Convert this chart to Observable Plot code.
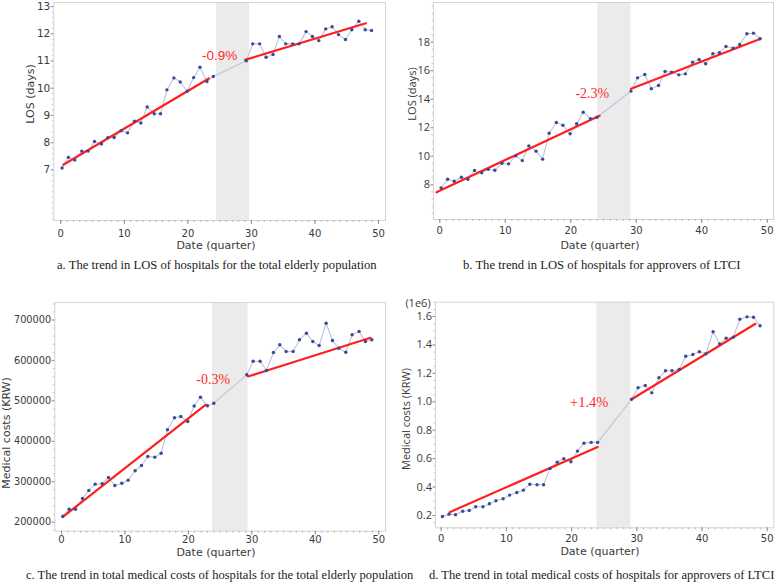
<!DOCTYPE html>
<html><head><meta charset="utf-8">
<script src="https://cdn.jsdelivr.net/npm/d3@7"></script>
<script src="https://cdn.jsdelivr.net/npm/@observablehq/plot@0.6"></script>
<style>
body{margin:0;background:#fff;}
#root{position:relative;width:778px;height:582px;overflow:hidden;background:#fff;}
.cap{position:absolute;font-family:"Liberation Serif","Times New Roman",serif;font-size:13px;line-height:1;color:#1a1a1a;white-space:nowrap;transform:translateY(-50%);}
.ttl{position:absolute;white-space:nowrap;color:#3a3a3a;line-height:1;transform:translate(-50%,-50%);}
.rot{transform:translate(-50%,-50%) rotate(-90deg);}
</style></head>
<body><div id="root"></div>
<script>
// ---------- data ----------
const quarterPre  = [0.2,1.2,2.2,3.3,4.3,5.3,6.4,7.4,8.4,9.5,10.5,11.6,12.6,13.6,14.7,15.7,16.7,17.8,18.8,19.9,20.9,21.9,23.0,24.0];
const quarterPost = [29.2,30.2,31.3,32.3,33.4,34.4,35.4,36.5,37.5,38.6,39.6,40.6,41.7,42.7,43.7,44.8,45.8,46.9,47.9,48.9];

const losTotalPre  = [7.07,7.46,7.36,7.69,7.69,8.04,7.95,8.18,8.19,8.44,8.36,8.79,8.72,9.31,9.06,9.06,9.94,10.38,10.23,9.89,10.39,10.77,10.25,10.43];
const losTotalPost = [11.01,11.63,11.63,11.14,11.24,11.90,11.63,11.63,11.63,12.08,11.90,11.75,12.18,12.26,11.97,11.79,12.15,12.46,12.15,12.12];

const losLtciPre  = [7.79,8.39,8.25,8.53,8.39,9.00,8.84,9.09,9.02,9.51,9.47,10.03,9.70,10.73,10.36,9.80,11.62,12.37,12.18,11.58,12.28,13.09,12.63,12.74];
const losLtciPost = [14.57,15.50,15.73,14.73,14.96,15.94,15.90,15.71,15.78,16.60,16.79,16.49,17.19,17.26,17.70,17.58,17.84,18.59,18.63,18.24];

const costTotalPre  = [214800,232100,232100,258600,278400,294000,295000,310500,290800,296400,303900,327100,340200,362400,360800,370600,428500,458100,461400,449000,487500,509100,487800,494300];
const costTotalPost = [564500,598100,598100,575100,619600,638700,622100,622100,651000,667400,646800,636900,692100,649300,630300,620400,663400,671600,646800,651000];

const costLtciPre  = [0.193,0.209,0.205,0.230,0.235,0.261,0.261,0.282,0.303,0.317,0.343,0.362,0.378,0.420,0.416,0.416,0.531,0.575,0.599,0.578,0.653,0.709,0.714,0.714];
const costLtciPost = [1.018,1.099,1.115,1.063,1.169,1.218,1.218,1.227,1.321,1.333,1.352,1.338,1.493,1.408,1.448,1.455,1.581,1.598,1.595,1.535];

// fitted trend segments (endpoints: quarter, value)
const trendAPreX = [0.4, 23.3],  trendAPreY = [7.19, 10.36];
const trendAPostX = [29.0, 48.0], trendAPostY = [11.04, 12.39];
const trendBPreX = [-0.5, 24.4], trendBPreY = [7.48, 12.84];
const trendBPostX = [29.2, 49.0], trendBPostY = [14.73, 18.24];
const trendCPreX = [0.16, 22.7], trendCPreY = [212400, 490300];
const trendCPostX = [29.4, 48.7], trendCPostY = [560300, 656000];
const trendDPreX = [1.3, 24.0],  trendDPreY = [0.223, 0.681];
const trendDPostX = [29.2, 48.2], trendDPostY = [1.018, 1.549];

// transition period (shaded)
const bandA = [24.5, 29.7], bandB = [24.1, 29.2], bandC = [23.8, 29.4], bandD = [23.9, 29.1];

// level-change annotations
const changeLabels = ["-0.9%", "-2.3%", "-0.3%", "+1.4%"];
const changeAtX = [25.0, 23.3, 23.9, 22.7];
const changeAtY = [11.2, 14.4, 552100, 0.997];

const xTicks  = [0, 10, 20, 30, 40, 50];
const yTicksA = [7, 8, 9, 10, 11, 12, 13];
const yTicksB = [8, 10, 12, 14, 16, 18];
const yTicksC = [200000, 300000, 400000, 500000, 600000, 700000];
const yTicksD = [0.2, 0.4, 0.6, 0.8, 1.0, 1.2, 1.4, 1.6];

const xTitle = "Date (quarter)";
const yTitles = ["LOS (days)", "LOS (days)", "Medical costs (KRW)", "Medical costs (KRW)"];
const captions = [
  "a. The trend in LOS of hospitals for the total elderly population",
  "b. The trend in LOS of hospitals for approvers of LTCI",
  "c. The trend in total medical costs of hospitals for the total elderly population",
  "d. The trend in total medical costs of hospitals for approvers of LTCI"
];
const expLabel = "(1e6)";

// ---------- drawing ----------
const root = document.getElementById("root");
const rows = (xs, ys) => xs.map((x, i) => ({x, y: ys[i]}));

const panels = [
  {left:0, top:0, width:390, height:250, mL:53.3, mR:5, mT:2, mB:30,
   xDomain:[-1.1, 51.1], yDomain:[5.14, 13.15], yTicks:yTicksA, yFmt:d=>String(d),
   yFont:'"DejaVu Sans", sans-serif', yFontSize:10.5, xPad:5, band:bandA,
   vals:[losTotalPre, losTotalPost], tpre:[trendAPreX,trendAPreY], tpost:[trendAPostX,trendAPostY],
   labelFont:'"Liberation Sans", Arial, sans-serif', labelSize:13.5, yMinor:0.2},
  {left:400, top:0, width:378, height:250, mL:33, mR:5, mT:2, mB:31,
   xDomain:[-0.96, 50.96], yDomain:[5.57, 20.78], yTicks:yTicksB, yFmt:d=>String(d),
   yFont:'"Open Sans", sans-serif', yFontSize:11, xPad:3, band:bandB,
   vals:[losLtciPre, losLtciPost], tpre:[trendBPreX,trendBPreY], tpost:[trendBPostX,trendBPostY],
   labelFont:'"Liberation Serif", "Times New Roman", serif', labelSize:14, yMinor:0.5},
  {left:0, top:290, width:390, height:255, mL:54.3, mR:5, mT:12, mB:14.3,
   xDomain:[-1.06, 51.06], yDomain:[177700, 743300], yTicks:yTicksC, yFmt:d=>String(d),
   yFont:'"DejaVu Sans", sans-serif', yFontSize:9.8, xPad:1, band:bandC,
   vals:[costTotalPre, costTotalPost], tpre:[trendCPreX,trendCPreY], tpost:[trendCPostX,trendCPostY],
   labelFont:'"Liberation Serif", "Times New Roman", serif', labelSize:14, yMinor:20000},
  {left:400, top:290, width:378, height:255, mL:35, mR:4.7, mT:11.7, mB:17.7,
   xDomain:[-0.87, 51.01], yDomain:[0.113, 1.701], yTicks:yTicksD, yFmt:d3.format(".1f"),
   yFont:'"Open Sans", sans-serif', yFontSize:11, xPad:3, band:bandD,
   vals:[costLtciPre, costLtciPost], tpre:[trendDPreX,trendDPreY], tpost:[trendDPostX,trendDPostY],
   labelFont:'"Liberation Serif", "Times New Roman", serif', labelSize:14.5, yMinor:0.05}
];

panels.forEach((p, k) => {
  const pts = rows(quarterPre, p.vals[0]).concat(rows(quarterPost, p.vals[1]));
  const minorY = d3.range(Math.ceil(p.yDomain[0] / p.yMinor), Math.floor(p.yDomain[1] / p.yMinor) + 1).map(i => i * p.yMinor);
  const chart = Plot.plot({
    width: p.width, height: p.height,
    marginLeft: p.mL, marginRight: p.mR, marginTop: p.mT, marginBottom: p.mB,
    x: {domain: p.xDomain, label: null},
    y: {domain: p.yDomain, label: null},
    style: {background: "transparent", fontFamily: '"DejaVu Sans", sans-serif', fontSize: "10px", color: "#3a3a3a", overflow: "visible"},
    marks: [
      Plot.rect([{x1: p.band[0], x2: p.band[1]}], {x1: "x1", x2: "x2", fill: "#ebebeb"}),
      Plot.frame({stroke: "#d4d4d4"}),
      Plot.line(pts, {x: "x", y: "y", stroke: "#bcc3dc", strokeWidth: 1.1}),
      Plot.line(rows(p.tpre[0], p.tpre[1]), {x: "x", y: "y", stroke: "#ff1f1f", strokeWidth: 2.2}),
      Plot.line(rows(p.tpost[0], p.tpost[1]), {x: "x", y: "y", stroke: "#ff1f1f", strokeWidth: 2.2}),
      Plot.dot(pts, {x: "x", y: "y", r: 1.7, fill: "#3b4a94"}),
      Plot.text([{x: changeAtX[k], y: changeAtY[k], t: changeLabels[k]}],
        {x: "x", y: "y", text: "t", fill: "#ff2b2b", fontSize: p.labelSize, fontFamily: p.labelFont}),
      Plot.axisX({ticks: d3.range(0, 51), tickSize: 2, tickFormat: () => "", stroke: "#b8b8b8", label: null}),
      Plot.axisX({ticks: xTicks, tickSize: 4, tickPadding: p.xPad, stroke: "#8c8c8c", fill: "#3a3a3a", label: null, fontSize: 10}),
      Plot.axisY({ticks: minorY, tickSize: 1.5, tickFormat: () => "", stroke: "#c4c4c4", label: null}),
      Plot.axisY({ticks: p.yTicks, tickSize: 2.5, tickPadding: 1, tickFormat: p.yFmt, stroke: "#8c8c8c", fill: "#3a3a3a",
        label: null, fontFamily: p.yFont, fontSize: p.yFontSize})
    ]
  });
  chart.style.position = "absolute";
  chart.style.left = p.left + "px";
  chart.style.top = p.top + "px";
  root.appendChild(chart);
});

function addText(txt, cls, x, y, css) {
  const d = document.createElement("div");
  d.className = cls;
  d.textContent = txt;
  d.style.left = x + "px";
  d.style.top = y + "px";
  Object.assign(d.style, css || {});
  root.appendChild(d);
  return d;
}
// fit caption font size to the width the caption spans in the reference
const ctx = document.createElement("canvas").getContext("2d");
function fitSize(txt, target) {
  ctx.font = '13px "Liberation Serif", "Times New Roman", serif';
  return Math.min(13.5, 13 * target / ctx.measureText(txt).width);
}
const dv = {fontFamily: '"DejaVu Sans", sans-serif', fontSize: "11px"};
const os = {fontFamily: '"Open Sans", sans-serif', fontSize: "11px"};
addText(xTitle, "ttl", 216, 245, dv);
addText(xTitle, "ttl", 600, 244.5, dv);
addText(xTitle, "ttl", 216, 551.5, dv);
addText(xTitle, "ttl", 600, 551, dv);
addText(yTitles[0], "ttl rot", 30, 94, dv);
addText(yTitles[1], "ttl rot", 411, 94, os);
addText(yTitles[2], "ttl rot", 6, 433, dv);
addText(yTitles[3], "ttl rot", 405, 419, os);
addText(expLabel, "ttl", 418, 302, os);
const capX = [57, 463, 26, 429], capY = [265, 265, 575, 575], capW = [320, 278, 388, 346];
captions.forEach((c, i) => {
  addText(c, "cap", capX[i], capY[i], {fontSize: fitSize(c, capW[i]).toFixed(2) + "px"});
});
</script>
</body></html>
